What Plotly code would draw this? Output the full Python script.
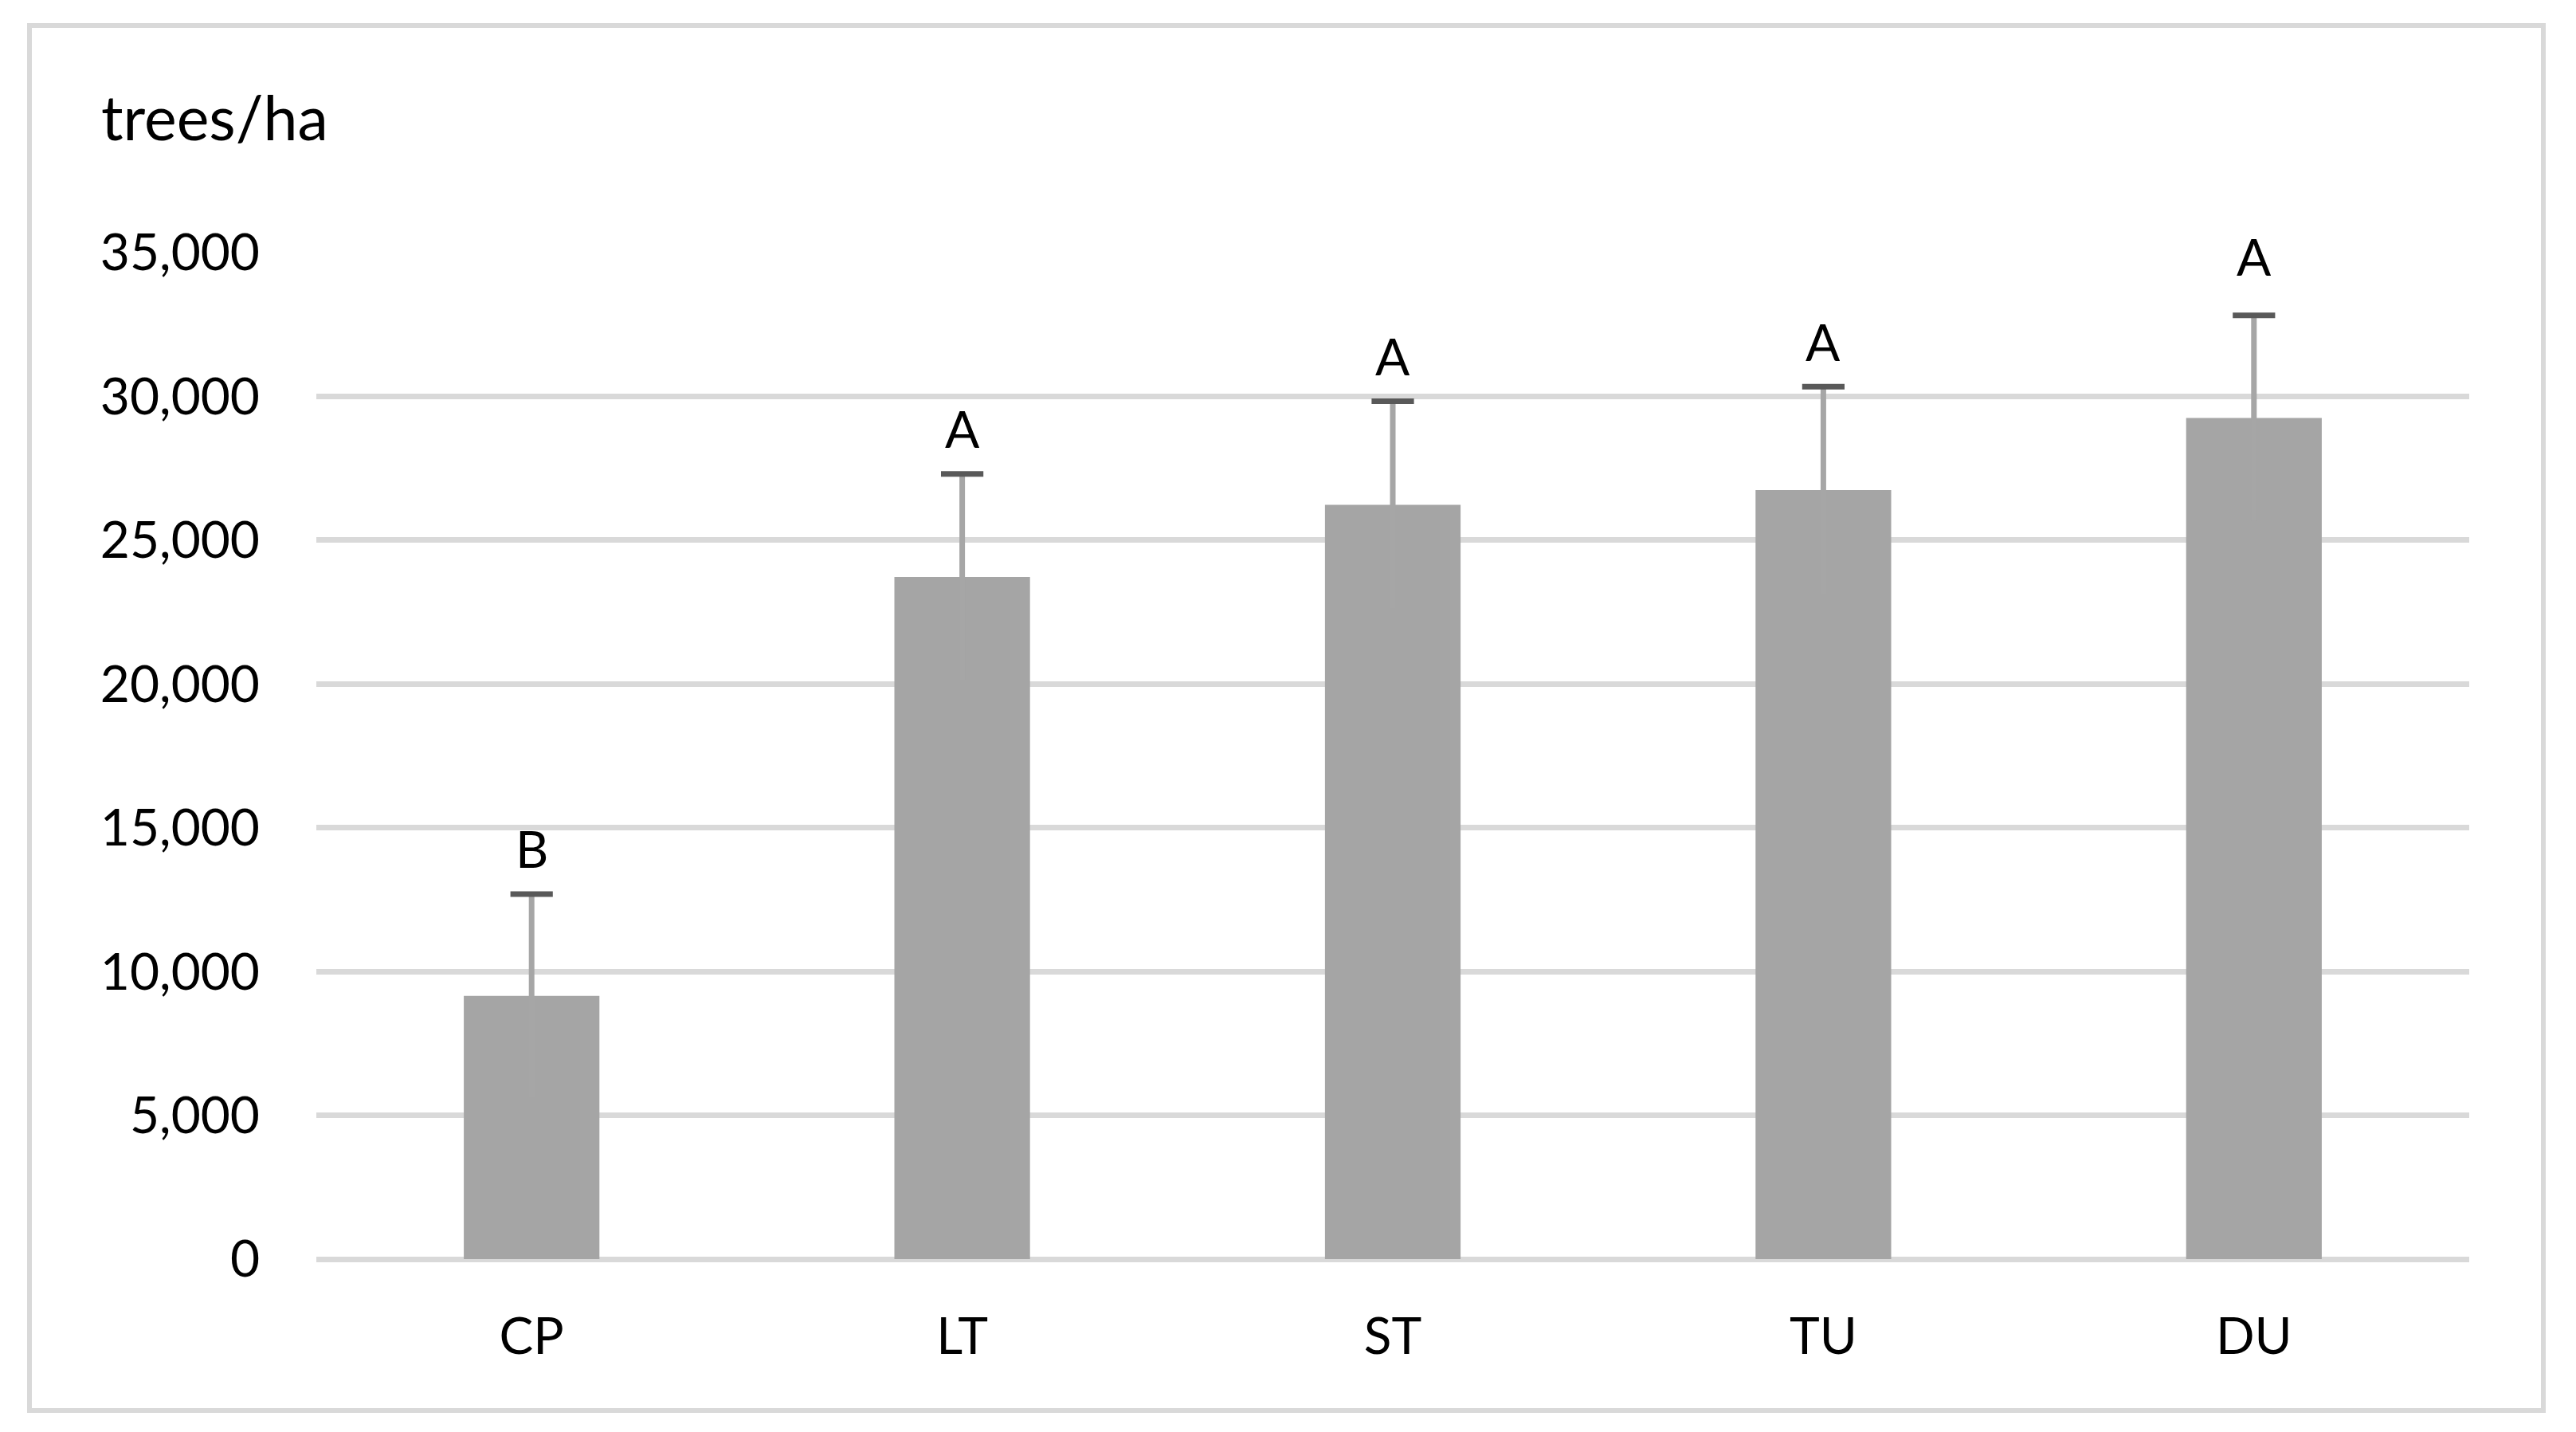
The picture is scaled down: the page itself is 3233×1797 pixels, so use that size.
import plotly.graph_objects as go

categories = ["CP", "LT", "ST", "TU", "DU"]
means = [9150, 23720, 26230, 26740, 29250]
errors = [3540, 3580, 3600, 3600, 3570]
letters = ["B", "A", "A", "A", "A"]
y_ticks = [0, 5000, 10000, 15000, 20000, 25000, 30000, 35000]
y_title = "trees/ha"

W, H = 3233, 1797
L, R, T, B = 389, 142, 309, 225
FONT = "Lato"
FS = 64

tops = [m + e for m, e in zip(means, errors)]

fig = go.Figure()
fig.add_trace(go.Bar(
    x=categories, y=means,
    marker=dict(color="#A5A5A5", line=dict(width=0)),
    error_y=dict(type="data", array=errors, visible=True,
                 color="#A6A6A6", thickness=7, width=0),
    hoverinfo="skip",
))
fig.add_trace(go.Scatter(
    x=categories, y=tops, mode="markers",
    marker=dict(symbol="line-ew", size=38, color="#595959",
                line=dict(color="#595959", width=7)),
    hoverinfo="skip", cliponaxis=False,
))

yshifts = [58, 57, 57, 57, 74]
for c, t, l, ys in zip(categories, tops, letters, yshifts):
    fig.add_annotation(x=c, y=t, text=l, showarrow=False, xref="x", yref="y",
                       yanchor="middle", yshift=ys,
                       font=dict(family=FONT, size=FS, color="#000000"))

pw = W - L - R
ph = H - T - B
# y-axis title at top left
fig.add_annotation(xref="paper", yref="paper",
                   x=(117 - L) / pw, y=(H - B - 138) / ph,
                   xanchor="left", yanchor="middle", showarrow=False,
                   text=y_title, font=dict(family=FONT, size=77, color="#000000"))

# chart-area border
fig.add_shape(type="rect", xref="paper", yref="paper",
              x0=(29 - L) / pw, x1=(3184 - L) / pw,
              y0=(H - B - 1762) / ph, y1=(H - B - 24) / ph,
              line=dict(color="#D9D9D9", width=6), layer="below")

fig.update_layout(
    width=W, height=H,
    margin=dict(l=L, r=R, t=T, b=B, pad=0),
    paper_bgcolor="white", plot_bgcolor="white",
    bargap=0.685, showlegend=False,
    font=dict(family=FONT, size=FS, color="#000000"),
)
fig.update_xaxes(showgrid=False, showline=False, zeroline=False, ticks="",
                 ticklabelstandoff=54,
                 tickfont=dict(family=FONT, size=FS, color="#000000"))
fig.update_yaxes(range=[0, 35000], tickvals=y_ticks, tickformat=",d",
                 showgrid=True, gridcolor="#D9D9D9", gridwidth=7,
                 zeroline=True, zerolinecolor="#D9D9D9", zerolinewidth=7,
                 showline=False, ticks="", ticklabelstandoff=70,
                 tickfont=dict(family=FONT, size=FS, color="#000000"))

fig.write_html("out.html")
